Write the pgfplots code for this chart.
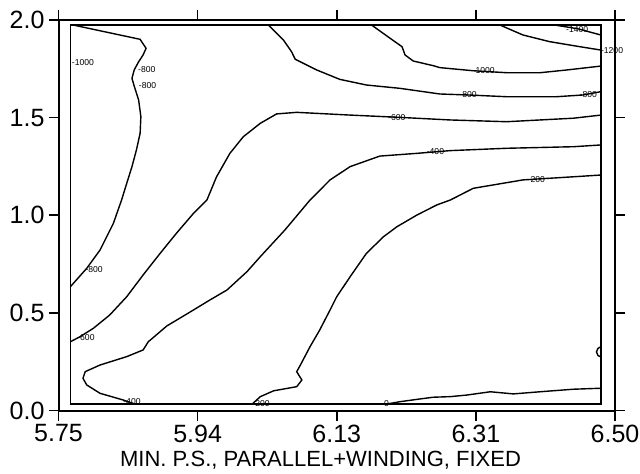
\documentclass[border=0pt]{standalone}
\usepackage{fontspec}
\setmainfont{Liberation Sans}
\usepackage{pgfplots}
\pgfplotsset{compat=1.18}
\usetikzlibrary{calc}

\begin{document}
\begin{tikzpicture}
\begin{axis}[
  name=ax,
  width=278.25pt, height=195.25pt, scale only axis,
  xmin=5.75, xmax=6.50, ymin=0, ymax=2,
  xtick={5.75,5.9375,6.125,6.3125,6.5},
  xticklabels={5.75,5.94,6.13,6.31,6.50},
  ytick={0,0.5,1,1.5,2},
  yticklabels={0.0,0.5,1.0,1.5,2.0},
  tick align=outside,
  xtick pos=both, ytick pos=both,
  major tick length=5pt,
  tick style={black, line width=0.8pt},
  axis line style={line width=1pt},
  ticklabel style={font=\fontsize{12.5}{14}\selectfont},
  xticklabel style={yshift=1.5pt},
  yticklabel style={xshift=1.5pt},
  xlabel={MIN.\ P.S., PARALLEL+WINDING, FIXED},
  xlabel style={font=\fontsize{11}{13}\selectfont,
    at={(axis description cs:0.4708,0)}, anchor=base, yshift=-27.75pt},
  clip=false,
  cycle list={{black}},
  every axis plot post/.append style={black, solid, line width=0.7pt, no marks},
]
% inner frame of the contour domain
\addplot[line width=1pt] coordinates {
  (5.766,0.033) (6.481,0.033) (6.481,1.974) (5.766,1.974) (5.766,0.033)};

% -800, left side
\addplot coordinates {
  (5.770,1.974) (5.860,1.901) (5.868,1.855) (5.864,1.821) (5.858,1.786)
  (5.852,1.744) (5.849,1.701) (5.852,1.662) (5.858,1.590) (5.861,1.505)
  (5.860,1.420) (5.855,1.334) (5.849,1.249) (5.842,1.164) (5.835,1.078)
  (5.824,0.959) (5.806,0.822) (5.788,0.728) (5.766,0.634)};

% -600
\addplot coordinates {
  (5.766,0.352) (5.779,0.378) (5.797,0.421) (5.819,0.489) (5.842,0.583)
  (5.864,0.694) (5.887,0.805) (5.909,0.908) (5.932,1.010) (5.950,1.078)
  (5.963,1.197) (5.981,1.317) (5.999,1.402) (6.022,1.471) (6.044,1.519)
  (6.071,1.527) (6.143,1.513) (6.206,1.502) (6.278,1.488) (6.354,1.479)
  (6.444,1.497) (6.481,1.513)};

% -400
\addplot coordinates {
  (5.853,0.033) (5.837,0.054) (5.806,0.088) (5.788,0.131) (5.783,0.165)
  (5.786,0.199) (5.806,0.233) (5.842,0.276) (5.864,0.310) (5.871,0.352)
  (5.896,0.433) (5.932,0.515) (5.954,0.566) (5.977,0.617) (6.004,0.711)
  (6.022,0.788) (6.055,0.924) (6.089,1.078) (6.116,1.181) (6.143,1.249)
  (6.183,1.303) (6.233,1.317) (6.278,1.331) (6.354,1.343) (6.444,1.351)
  (6.481,1.360)};

% -200
\addplot coordinates {
  (6.011,0.033) (6.022,0.071) (6.040,0.101) (6.071,0.122) (6.078,0.156)
  (6.071,0.199) (6.076,0.233) (6.089,0.327) (6.102,0.412) (6.116,0.515)
  (6.125,0.583) (6.143,0.685) (6.165,0.805) (6.188,0.890) (6.206,0.941)
  (6.233,1.001) (6.260,1.053) (6.278,1.078) (6.309,1.138) (6.376,1.181)
  (6.444,1.197) (6.481,1.206)};

% 0
\addplot coordinates {
  (6.192,0.033) (6.210,0.045) (6.233,0.057) (6.255,0.068) (6.278,0.071)
  (6.300,0.079) (6.332,0.096) (6.363,0.085) (6.399,0.096) (6.444,0.109)
  (6.481,0.114)};

% small closed piece at the right edge
\addplot[line width=0.5pt] coordinates {
  (6.481,0.327) (6.477,0.318) (6.475,0.300) (6.477,0.282) (6.481,0.274)};

% -800, upper right
\addplot coordinates {
  (6.033,1.974) (6.053,1.898) (6.064,1.838) (6.069,1.799) (6.098,1.744)
  (6.129,1.696) (6.165,1.667) (6.210,1.650) (6.264,1.621) (6.302,1.616)
  (6.354,1.607) (6.421,1.607) (6.457,1.616) (6.481,1.633)};

% -1000
\addplot coordinates {
  (6.172,1.974) (6.197,1.906) (6.213,1.863) (6.217,1.821) (6.228,1.790)
  (6.255,1.766) (6.264,1.756) (6.309,1.740) (6.354,1.730) (6.399,1.730)
  (6.435,1.744) (6.481,1.764)};

% -1200
\addplot coordinates {
  (6.345,1.974) (6.376,1.923) (6.412,1.889) (6.453,1.863) (6.481,1.846)};

% -1400
\addplot coordinates {
  (6.419,1.974) (6.450,1.955) (6.481,1.923)};

% contour labels
\tikzset{clab/.style={font=\fontsize{4.3}{4.3}\selectfont, inner sep=0.3pt}}
\node[clab] at (axis cs:5.783,1.780) {-1000};
\node[clab] at (axis cs:5.869,1.744) {-800};
\node[clab] at (axis cs:5.870,1.662) {-800};
\node[clab] at (axis cs:5.798,0.720) {-800};
\node[clab] at (axis cs:5.787,0.376) {-600};
\node[clab] at (axis cs:6.206,1.502) {-600};
\node[clab] at (axis cs:5.849,0.045) {-400};
\node[clab] at (axis cs:6.258,1.326) {-400};
\node[clab] at (axis cs:6.023,0.036) {-200};
\node[clab] at (axis cs:6.394,1.181) {-200};
\node[clab] at (axis cs:6.192,0.036) {0};
\node[clab] at (axis cs:6.302,1.616) {-800};
\node[clab] at (axis cs:6.464,1.616) {-800};
\node[clab] at (axis cs:6.323,1.740) {-1000};
\node[clab] at (axis cs:6.496,1.843) {-1200};
\node[clab] at (axis cs:6.449,1.951) {-1400};
\end{axis}
\pgfresetboundingbox
\path[use as bounding box] ($(ax.south west)+(-29.25pt,-31.25pt)$)
  rectangle ($(ax.north east)+(12.5pt,10pt)$);
\end{tikzpicture}
\end{document}
